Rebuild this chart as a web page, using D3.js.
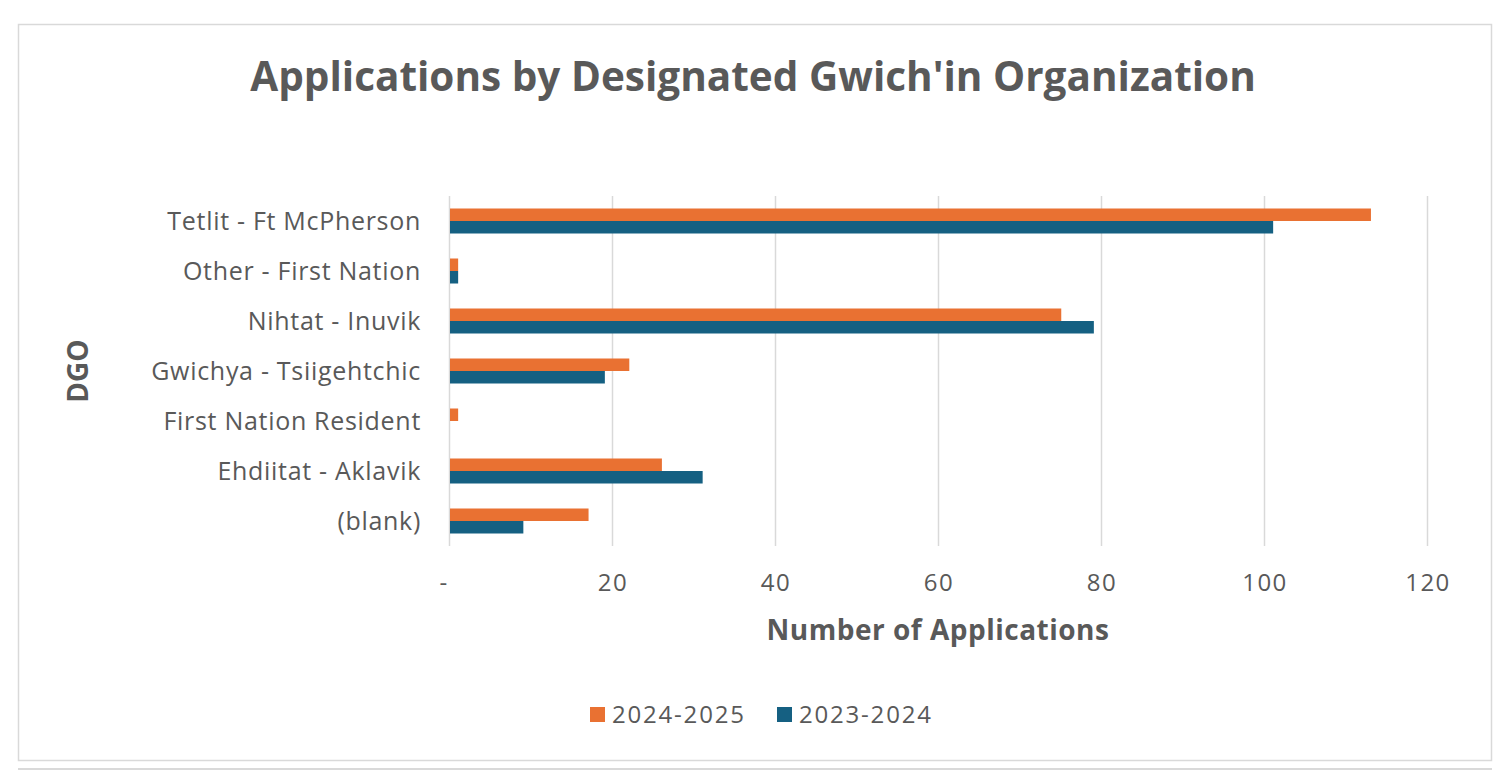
<!DOCTYPE html>
<html><head><meta charset="utf-8">
<script src="https://cdn.jsdelivr.net/npm/d3@7"></script>
<style>
html,body{margin:0;padding:0;background:#fff;}
svg text{font-family:"Open Sans",sans-serif;fill:#595959;}
</style></head>
<body>
<svg id="c" width="1512" height="772"></svg>
<script>
const categories = ["Tetlit - Ft McPherson","Other - First Nation","Nihtat - Inuvik","Gwichya - Tsiigehtchic","First Nation Resident","Ehdiitat - Aklavik","(blank)"];
const series = ["2024-2025","2023-2024"];
const values2024_2025 = [113,1,75,22,1,26,17];
const values2023_2024 = [101,1,79,19,0,31,9];
const xTicks = [0,20,40,60,80,100,120];
const xTickLabels = ["-","20","40","60","80","100","120"];
const colors = ["#E97132","#156082"];

const svg = d3.select("#c");
// chart frame
svg.append("rect").attr("x",18.5).attr("y",24.5).attr("width",1473).attr("height",736)
  .attr("fill","#fff").attr("stroke","#d9d9d9").attr("stroke-width",1.5);
svg.append("line").attr("x1",18).attr("x2",1492).attr("y1",769).attr("y2",769)
  .attr("stroke","#d9d9d9").attr("stroke-width",2);

const m = {left:449, right:1427, top:196, bottom:546};
const x = d3.scaleLinear().domain([0,120]).range([m.left,m.right]);
const y = d3.scaleBand().domain(categories).range([m.top,m.bottom]).paddingInner(0.5).paddingOuter(0.25);
const ys = d3.scaleBand().domain(series).range([0,y.bandwidth()]);

// gridlines
svg.append("g").selectAll("line").data(xTicks).join("line")
  .attr("x1",d=>x(d)+0.5).attr("x2",d=>x(d)+0.5).attr("y1",m.top).attr("y2",m.bottom)
  .attr("stroke","#d9d9d9").attr("stroke-width",1.5);

// bars
const data = categories.map((c,i)=>({cat:c, vals:[values2024_2025[i],values2023_2024[i]]}));
const g = svg.append("g").selectAll("g").data(data).join("g")
  .attr("transform",d=>`translate(0,${y(d.cat)})`);
g.selectAll("rect").data(d=>d.vals.map((v,j)=>({s:series[j],v,j}))).join("rect")
  .attr("x",x(0)+1).attr("y",d=>ys(d.s)).attr("height",ys.bandwidth())
  .attr("width",d=>Math.max(0,x(d.v)-x(0)))
  .attr("fill",d=>colors[d.j]);

// category labels
svg.append("g").selectAll("text").data(categories).join("text")
  .attr("x",421).attr("y",d=>y(d)+y.bandwidth()/2).attr("dy","0.35em")
  .attr("text-anchor","end").attr("font-size",25).attr("letter-spacing",0.7).text(d=>d);

// x tick labels
svg.append("g").selectAll("text").data(xTicks).join("text")
  .attr("x",(d,i)=>x(d)-(i===0?6:0)+1).attr("y",591).attr("text-anchor","middle")
  .attr("font-size",24).attr("letter-spacing",1.5).text((d,i)=>xTickLabels[i]);

// titles
svg.append("text").attr("x",753).attr("y",91).attr("text-anchor","middle")
  .attr("font-size",40.5).attr("font-weight","bold").text("Applications by Designated Gwich'in Organization");
svg.append("text").attr("x",(m.left+m.right)/2).attr("y",640).attr("text-anchor","middle")
  .attr("font-size",28).attr("font-weight","bold").attr("letter-spacing",0.5).text("Number of Applications");
svg.append("text").attr("transform",`translate(88,371) rotate(-90)`).attr("text-anchor","middle")
  .attr("font-size",28).attr("font-weight","bold").text("DGO");

// legend
const legendX = [590,777];
const lg = svg.append("g").selectAll("g").data(series).join("g")
  .attr("transform",(d,i)=>`translate(${legendX[i]},0)`);
lg.append("rect").attr("x",0).attr("y",707).attr("width",15).attr("height",15).attr("fill",(d,i)=>colors[i]);
lg.append("text").attr("x",22).attr("y",723).attr("font-size",24).attr("letter-spacing",1.8).text(d=>d);
</script>
</body></html>
